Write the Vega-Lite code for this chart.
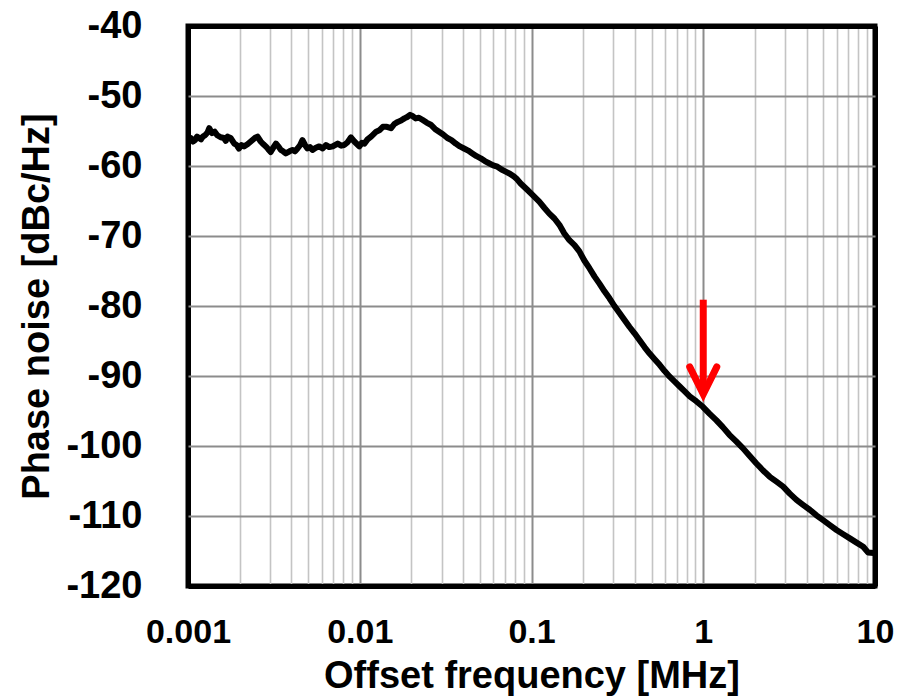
{
  "$schema": "https://vega.github.io/schema/vega-lite/v6.json",
  "autosize": {"type": "none"},
  "padding": {"left": 188, "top": 26, "right": 33, "bottom": 112},
  "width": 687,
  "height": 560,
  "background": "white",
  "config": {
    "view": {"stroke": "black", "strokeWidth": 5},
    "font": "Liberation Sans"
  },
  "datasets": {
    "curve": [
      {"f": 0.00100, "db": -56.2}, {"f": 0.00104, "db": -56.0}, {"f": 0.00107, "db": -56.5}, {"f": 0.00110, "db": -56.3},
      {"f": 0.00113, "db": -55.8}, {"f": 0.00116, "db": -56.0}, {"f": 0.00119, "db": -56.2}, {"f": 0.00122, "db": -55.8},
      {"f": 0.00126, "db": -55.6}, {"f": 0.00130, "db": -55.2},
      {"f": 0.00133, "db": -54.6}, {"f": 0.00138, "db": -55.3}, {"f": 0.00143, "db": -55.1}, {"f": 0.00148, "db": -55.6},
      {"f": 0.00155, "db": -55.9}, {"f": 0.00162, "db": -56.0}, {"f": 0.00166, "db": -56.4}, {"f": 0.00170, "db": -55.8},
      {"f": 0.00177, "db": -56.0}, {"f": 0.00186, "db": -56.8}, {"f": 0.00192, "db": -57.0}, {"f": 0.00198, "db": -57.5},
      {"f": 0.00205, "db": -57.0}, {"f": 0.00212, "db": -57.2}, {"f": 0.00222, "db": -56.9}, {"f": 0.00232, "db": -56.5},
      {"f": 0.00245, "db": -56.0}, {"f": 0.00254, "db": -55.8}, {"f": 0.00265, "db": -56.5},
      {"f": 0.00275, "db": -56.9}, {"f": 0.00284, "db": -57.2}, {"f": 0.00293, "db": -57.6}, {"f": 0.00303, "db": -58.0}, {"f": 0.00315, "db": -57.3},
      {"f": 0.00325, "db": -56.8}, {"f": 0.00336, "db": -57.2}, {"f": 0.00347, "db": -57.7}, {"f": 0.00358, "db": -57.9}, {"f": 0.00371, "db": -58.2},
      {"f": 0.00390, "db": -57.9}, {"f": 0.00406, "db": -57.7}, {"f": 0.00420, "db": -57.9}, {"f": 0.00434, "db": -57.5},
      {"f": 0.00450, "db": -57.0}, {"f": 0.00464, "db": -56.3}, {"f": 0.00480, "db": -57.0},
      {"f": 0.00496, "db": -57.5}, {"f": 0.00513, "db": -57.3}, {"f": 0.00531, "db": -57.7}, {"f": 0.00555, "db": -57.4},
      {"f": 0.00581, "db": -57.2}, {"f": 0.00608, "db": -57.5}, {"f": 0.00636, "db": -57.0}, {"f": 0.00665, "db": -57.3},
      {"f": 0.00696, "db": -57.2}, {"f": 0.00744, "db": -56.8}, {"f": 0.00780, "db": -57.1},
      {"f": 0.00812, "db": -57.0}, {"f": 0.00850, "db": -56.6}, {"f": 0.00888, "db": -55.9}, {"f": 0.00930, "db": -56.5},
      {"f": 0.00994, "db": -57.2}, {"f": 0.01030, "db": -56.7}, {"f": 0.01064, "db": -56.8}, {"f": 0.01110, "db": -56.2}, {"f": 0.01164, "db": -55.8},
      {"f": 0.01246, "db": -55.1}, {"f": 0.01300, "db": -54.9}, {"f": 0.01363, "db": -54.4}, {"f": 0.01440, "db": -54.4},
      {"f": 0.01522, "db": -54.6}, {"f": 0.01590, "db": -54.0}, {"f": 0.01664, "db": -53.7}, {"f": 0.01740, "db": -53.5}, {"f": 0.01819, "db": -53.2},
      {"f": 0.01890, "db": -53.0}, {"f": 0.01963, "db": -52.7}, {"f": 0.02040, "db": -52.9}, {"f": 0.02117, "db": -53.2}, {"f": 0.02210, "db": -53.1}, {"f": 0.02315, "db": -53.4},
      {"f": 0.02450, "db": -53.8}, {"f": 0.02590, "db": -54.1}, {"f": 0.02740, "db": -54.7}, {"f": 0.02896, "db": -55.1}, {"f": 0.03060, "db": -55.5}, {"f": 0.03238, "db": -56.0},
      {"f": 0.03420, "db": -56.3}, {"f": 0.03621, "db": -56.8}, {"f": 0.03830, "db": -57.2}, {"f": 0.04048, "db": -57.5}, {"f": 0.04280, "db": -57.8}, {"f": 0.04526, "db": -58.2},
      {"f": 0.04790, "db": -58.6}, {"f": 0.05061, "db": -58.9}, {"f": 0.05350, "db": -59.3}, {"f": 0.05658, "db": -59.6}, {"f": 0.05980, "db": -59.9}, {"f": 0.06326, "db": -60.1},
      {"f": 0.06690, "db": -60.5}, {"f": 0.07072, "db": -60.8}, {"f": 0.07480, "db": -61.1}, {"f": 0.07907, "db": -61.5}, {"f": 0.08250, "db": -61.9}, {"f": 0.08645, "db": -62.5},
      {"f": 0.0945, "db": -63.4}, {"f": 0.1020, "db": -64.2}, {"f": 0.1110, "db": -65.1}, {"f": 0.1190, "db": -66.0}, {"f": 0.1270, "db": -66.8},
      {"f": 0.1360, "db": -67.5}, {"f": 0.1453, "db": -68.4}, {"f": 0.1550, "db": -69.6}, {"f": 0.1662, "db": -70.6}, {"f": 0.1780, "db": -71.3}, {"f": 0.1900, "db": -72.2},
      {"f": 0.2030, "db": -73.5}, {"f": 0.2174, "db": -74.6}, {"f": 0.2330, "db": -75.8}, {"f": 0.2487, "db": -76.8}, {"f": 0.2660, "db": -77.9}, {"f": 0.2845, "db": -78.9},
      {"f": 0.3040, "db": -80.0}, {"f": 0.3254, "db": -81.0}, {"f": 0.3480, "db": -82.0}, {"f": 0.3723, "db": -83.0}, {"f": 0.3980, "db": -83.9}, {"f": 0.4259, "db": -84.9},
      {"f": 0.4560, "db": -85.9}, {"f": 0.4872, "db": -86.8}, {"f": 0.5210, "db": -87.6}, {"f": 0.5573, "db": -88.4}, {"f": 0.5960, "db": -89.3}, {"f": 0.6375, "db": -90.1},
      {"f": 0.6820, "db": -90.8}, {"f": 0.7293, "db": -91.5}, {"f": 0.7800, "db": -92.2}, {"f": 0.834, "db": -92.9}, {"f": 0.9100, "db": -93.6}, {"f": 0.995, "db": -94.4},
      {"f": 1.09, "db": -95.4}, {"f": 1.19, "db": -96.3}, {"f": 1.30, "db": -97.3}, {"f": 1.42, "db": -98.4}, {"f": 1.55, "db": -99.3}, {"f": 1.70, "db": -100.3},
      {"f": 1.86, "db": -101.4}, {"f": 2.04, "db": -102.5}, {"f": 2.23, "db": -103.5}, {"f": 2.44, "db": -104.4}, {"f": 2.67, "db": -105.1}, {"f": 2.92, "db": -105.8},
      {"f": 3.19, "db": -106.8}, {"f": 3.49, "db": -107.7}, {"f": 3.81, "db": -108.4}, {"f": 4.17, "db": -109.1}, {"f": 4.56, "db": -109.9}, {"f": 4.99, "db": -110.6},
      {"f": 5.46, "db": -111.3}, {"f": 5.97, "db": -112.0}, {"f": 6.53, "db": -112.6}, {"f": 7.14, "db": -113.2}, {"f": 7.81, "db": -113.8}, {"f": 8.54, "db": -114.4},
      {"f": 9.10, "db": -115.2}, {"f": 9.85, "db": -115.3}
    ],
    "shaft": [{"f": 1, "db": -79.1, "db2": -92.0}],
    "head": [
      {"f": 0.834, "db": -88.7, "k": 0},
      {"f": 1.0, "db": -92.6, "k": 1},
      {"f": 1.199, "db": -88.7, "k": 2}
    ]
  },
  "layer": [
    {
      "data": {"name": "curve"},
      "mark": {"type": "line", "color": "black", "strokeWidth": 6, "strokeJoin": "round"},
      "encoding": {
        "x": {
          "field": "f", "type": "quantitative",
          "scale": {"type": "log", "domain": [0.001, 10], "nice": false},
          "axis": {
            "title": "Offset frequency [MHz]",
            "titleFont": "Liberation Sans", "titleFontSize": 38, "titleFontWeight": "bold",
            "titleColor": "black", "titlePadding": 8,
            "values": [0.001,0.002,0.003,0.004,0.005,0.006,0.007,0.008,0.009,
                       0.01,0.02,0.03,0.04,0.05,0.06,0.07,0.08,0.09,
                       0.1,0.2,0.3,0.4,0.5,0.6,0.7,0.8,0.9,
                       1,2,3,4,5,6,7,8,9,10],
            "labelExpr": "abs(log(datum.value)/LN10 - round(log(datum.value)/LN10)) < 0.001 ? format(datum.value, '~g') : ''",
            "labelFont": "Liberation Sans", "labelFontSize": 34, "labelFontWeight": "bold",
            "labelColor": "black", "labelPadding": 29, "labelFlush": false, "labelOverlap": false,
            "ticks": false, "tickSize": 0, "domain": false,
            "grid": true,
            "gridColor": {
              "condition": [
                {"test": "datum.value <= 0.00101 || datum.value >= 9.99", "value": "black"},
                {"test": "abs(log(datum.value)/LN10 - round(log(datum.value)/LN10)) < 0.001", "value": "#8c8c8c"}
              ],
              "value": "#c4c4c4"
            },
            "gridWidth": {
              "condition": [
                {"test": "datum.value <= 0.00101 || datum.value >= 9.99", "value": 5},
                {"test": "abs(log(datum.value)/LN10 - round(log(datum.value)/LN10)) < 0.001", "value": 2}
              ],
              "value": 1.6
            },
            "gridOpacity": 1
          }
        },
        "y": {
          "field": "db", "type": "quantitative",
          "scale": {"domain": [-120, -40], "nice": false, "zero": false},
          "axis": {
            "title": "Phase noise [dBc/Hz]",
            "titleFont": "Liberation Sans", "titleFontSize": 38, "titleFontWeight": "bold",
            "titleColor": "black", "titlePadding": 9,
            "values": [-120,-110,-100,-90,-80,-70,-60,-50,-40],
            "labelExpr": "'' + datum.value",
            "labelFont": "Liberation Sans", "labelFontSize": 38, "labelFontWeight": "bold",
            "labelColor": "black", "labelPadding": 46, "labelFlush": false, "labelOverlap": false,
            "ticks": false, "tickSize": 0, "domain": false,
            "grid": true,
            "gridColor": {
              "condition": {"test": "datum.value == -40 || datum.value == -120", "value": "black"},
              "value": "#8c8c8c"
            },
            "gridWidth": {
              "condition": {"test": "datum.value == -40 || datum.value == -120", "value": 5},
              "value": 2
            },
            "gridOpacity": 1
          }
        }
      }
    },
    {
      "data": {"name": "shaft"},
      "mark": {"type": "rule", "color": "#ff0000", "strokeWidth": 7, "strokeCap": "butt"},
      "encoding": {
        "x": {"field": "f", "type": "quantitative"},
        "y": {"field": "db", "type": "quantitative"},
        "y2": {"field": "db2"}
      }
    },
    {
      "data": {"name": "head"},
      "mark": {"type": "line", "color": "#ff0000", "strokeWidth": 7, "strokeCap": "round", "strokeJoin": "miter"},
      "encoding": {
        "x": {"field": "f", "type": "quantitative"},
        "y": {"field": "db", "type": "quantitative"},
        "order": {"field": "k", "type": "quantitative"}
      }
    }
  ]
}
